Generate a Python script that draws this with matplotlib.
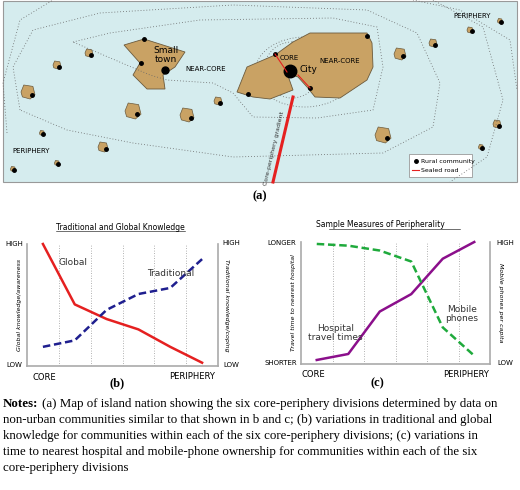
import matplotlib
matplotlib.use("Agg")
import matplotlib.pyplot as plt
from matplotlib.patches import Polygon, Rectangle, Ellipse

# ---- data for panel (b) and (c)
divisions = [0.5, 1.5, 2.5, 3.5, 4.5, 5.5]
global_know = [1.0, 0.505, 0.385, 0.30, 0.157, 0.027]
traditional = [0.157, 0.21, 0.46, 0.59, 0.64, 0.876]
hospital_time = [0.033, 0.082, 0.43, 0.573, 0.863, 1.0]
mobile_phones = [0.984, 0.97, 0.93, 0.84, 0.30, 0.068]

# ---- map shapes (pixel coords)
small_town_isl = [(124,45),(144,39),(185,52),(175,67),(163,75),(165,89),(147,89),(133,75),(140,63)]
city_isl = [(237,92),(247,67),(275,55),(293,42),(310,33),(367,33),(372,43),(373,67),(367,80),
            (340,98),(315,97),(307,87),(298,77),(287,73),(293,90),(270,99),(253,97)]
islets = [(89,53,4),(57,65,4),(28,92,7),(133,111,8),(187,115,7),(218,101,4),(42,133,2.5),
          (103,147,5),(400,54,6),(433,43,4),(470,30,3),(500,21,2.5),(383,135,8),(497,124,4),
          (481,147,2.5),(57,163,2.5),(13,169,2.5)]
rings = [
    [(73,42),(110,33),(200,20),(333,18),(377,27),(383,67),(373,110),(317,118),(253,117),(233,93),(213,83),(167,80),(150,75),(73,42)],
    [(20,110),(13,67),(33,30),(100,13),(233,5),(367,10),(417,33),(440,83),(433,127),(383,153),(233,157),(133,143),(67,130),(20,110)],
    [(7,133),(3,83),(20,20),(53,0)],
    [(433,0),(483,27),(503,100),(487,157),(450,182)],
    [(413,0),(460,10),(510,40),(517,90)],
]

fig = plt.figure(figsize=(5.2, 4.9), dpi=100)
fig.patch.set_facecolor("white")
ax = fig.add_axes([0, 0, 1, 1])
ax.set_xlim(0, 520)
ax.set_ylim(490, 0)
ax.axis("off")

dots = (0, (1, 2.5))
ax.add_patch(Rectangle((3, 1), 514, 181, facecolor="#d5ecee", edgecolor="#999999", lw=0.8))
for r in rings:
    xs, ys = zip(*r)
    ax.plot(xs, ys, color="#666666", ls=dots, lw=0.6)
ax.add_patch(Ellipse((292, 70), 56, 56, fill=False, ec="#666666", ls=dots, lw=0.6))
ax.add_patch(Ellipse((305, 72), 100, 70, fill=False, ec="#666666", ls=dots, lw=0.6))

tan = "#c9a264"
for shape in (small_town_isl, city_isl):
    ax.add_patch(Polygon(shape, closed=True, fc=tan, ec="#6b5a3c", lw=0.6))
for cx, cy, s in islets:
    pts = [(cx - s*0.6, cy - s), (cx + s*0.7, cy - s*0.8), (cx + s, cy + s*0.4),
           (cx + s*0.3, cy + s), (cx - s*0.8, cy + s*0.7), (cx - s, cy)]
    ax.add_patch(Polygon(pts, closed=True, fc=tan, ec="#6b5a3c", lw=0.5))
    ax.plot(cx + s*0.5, cy + s*0.4, "o", color="black", ms=2.5)
for x, y in [(144,39),(141,63),(275,54),(248,94),(310,88),(367,36)]:
    ax.plot(x, y, "o", color="black", ms=2.5)
ax.plot(165, 70, "o", color="black", ms=5)
ax.plot(290, 71, "o", color="black", ms=9)

ax.plot([275, 287], [54, 72], color="#e52020", lw=0.8)
ax.plot([298, 310], [75, 88], color="#e52020", lw=0.8)
ax.plot([293, 273], [97, 182], color="#e52020", lw=2.2)
ax.text(274, 148, "Core-periphery gradient", rotation=77, fontsize=4.5, color="#333333",
        ha="center", va="center")

ax.text(166, 55, "Small\ntown", fontsize=6.5, ha="center", va="center", linespacing=1.0)
ax.text(300, 69, "City", fontsize=6.5, va="center")
ax.text(289, 58, "CORE", fontsize=5, ha="center", va="center")
ax.text(340, 61, "NEAR-CORE", fontsize=5, ha="center", va="center")
ax.text(206, 69, "NEAR-CORE", fontsize=5, ha="center", va="center")
ax.text(472, 16, "PERIPHERY", fontsize=5, ha="center", va="center")
ax.text(31, 151, "PERIPHERY", fontsize=5, ha="center", va="center")

ax.add_patch(Rectangle((409, 154), 63, 23, fc="white", ec="#999999", lw=0.6))
ax.plot(416, 161, "o", color="black", ms=2.5)
ax.text(421, 161, "Rural community", fontsize=4.5, va="center")
ax.plot([412, 419], [170, 170], color="#e52020", lw=0.8)
ax.text(421, 170, "Sealed road", fontsize=4.5, va="center")

serif = "Liberation Serif"
ax.text(260, 196, "(a)", fontsize=9, fontweight="bold", family=serif, ha="center", va="center")
ax.text(117, 383, "(b)", fontsize=9, fontweight="bold", family=serif, ha="center", va="center")
ax.text(377, 383, "(c)", fontsize=9, fontweight="bold", family=serif, ha="center", va="center")


def chart(x0, x1, ytop, ybot):
    a = fig.add_axes([x0/520, 1 - ybot/490, (x1 - x0)/520, (ybot - ytop)/490])
    a.set_xlim(0, 6)
    a.set_ylim(0, 1)
    a.patch.set_alpha(0)
    for s in ("left", "bottom", "right"):
        a.spines[s].set_color("#aaaaaa")
        a.spines[s].set_linewidth(1.2)
    a.spines["top"].set_visible(False)
    a.set_xticks([])
    a.set_yticks([])
    for v in range(1, 6):
        a.axvline(v, color="#999999", ls=(0, (1, 2)), lw=0.6)
    return a

b = chart(27, 218, 244, 366)
b.plot(divisions, global_know, color="#e52020", lw=1.8, clip_on=False)
b.plot(divisions, traditional, color="#1f1f8f", lw=1.8, ls=(0, (3, 1.5)), clip_on=False)
b.text(1.45, 0.83, "Global", fontsize=6.5, color="#333333", ha="center")
b.text(4.5, 0.74, "Traditional", fontsize=6.5, color="#333333", ha="center")
ax.text(120, 227, "Traditional and Global Knowledge", fontsize=5.5, ha="center", va="center")
ax.plot([56, 185], [231, 231], color="black", lw=0.4)
ax.text(14, 244, "HIGH", fontsize=5, ha="center", va="center")
ax.text(14, 365, "LOW", fontsize=5, ha="center", va="center")
ax.text(231, 243, "HIGH", fontsize=5, ha="center", va="center")
ax.text(231, 365, "LOW", fontsize=5, ha="center", va="center")
ax.text(20, 305, "Global knowledge/awareness", fontsize=4.5, style="italic", rotation=90, ha="center", va="center")
ax.text(226, 305, "Traditional knowledge/coping", fontsize=4.5, style="italic", rotation=270, ha="center", va="center")
ax.text(44, 377, "CORE", fontsize=6, ha="center", va="center")
ax.text(192, 376, "PERIPHERY", fontsize=6, ha="center", va="center")

c = chart(301, 490, 242, 364)
c.plot(divisions, hospital_time, color="#8b0f8b", lw=1.8, clip_on=False)
c.plot(divisions, mobile_phones, color="#1faa3c", lw=1.8, ls=(0, (3, 1.5)), clip_on=False)
c.text(1.1, 0.2, "Hospital\ntravel times", fontsize=6.5, color="#333333", ha="center", linespacing=1.0)
c.text(5.1, 0.35, "Mobile\nphones", fontsize=6.5, color="#333333", ha="center", linespacing=1.0)
ax.text(380, 224, "Sample Measures of Peripherality", fontsize=5.5, ha="center", va="center")
ax.plot([329, 460], [229, 229], color="black", lw=0.4)
ax.text(282, 243, "LONGER", fontsize=5, ha="center", va="center")
ax.text(281, 363, "SHORTER", fontsize=5, ha="center", va="center")
ax.text(505, 243, "HIGH", fontsize=5, ha="center", va="center")
ax.text(505, 363, "LOW", fontsize=5, ha="center", va="center")
ax.text(294, 303, "Travel time to nearest hospital", fontsize=4.5, style="italic", rotation=90, ha="center", va="center")
ax.text(500, 303, "Mobile phones per capita", fontsize=4.5, style="italic", rotation=270, ha="center", va="center")
ax.text(313, 374, "CORE", fontsize=6, ha="center", va="center")
ax.text(466, 374, "PERIPHERY", fontsize=6, ha="center", va="center")

notes = [
    "(a) Map of island nation showing the six core-periphery divisions determined by data on",
    "non-urban communities similar to that shown in b and c; (b) variations in traditional and global",
    "knowledge for communities within each of the six core-periphery divisions; (c) variations in",
    "time to nearest hospital and mobile-phone ownership for communities within each of the six",
    "core-periphery divisions",
]
ax.text(3, 404, "Notes:", fontsize=9.3, fontweight="bold", family=serif, va="center")
ax.text(42, 404, notes[0], fontsize=9.3, family=serif, va="center")
for i, line in enumerate(notes[1:]):
    ax.text(3, 420 + 16*i, line, fontsize=9.3, family=serif, va="center")

fig.savefig("out.png", dpi=100)
